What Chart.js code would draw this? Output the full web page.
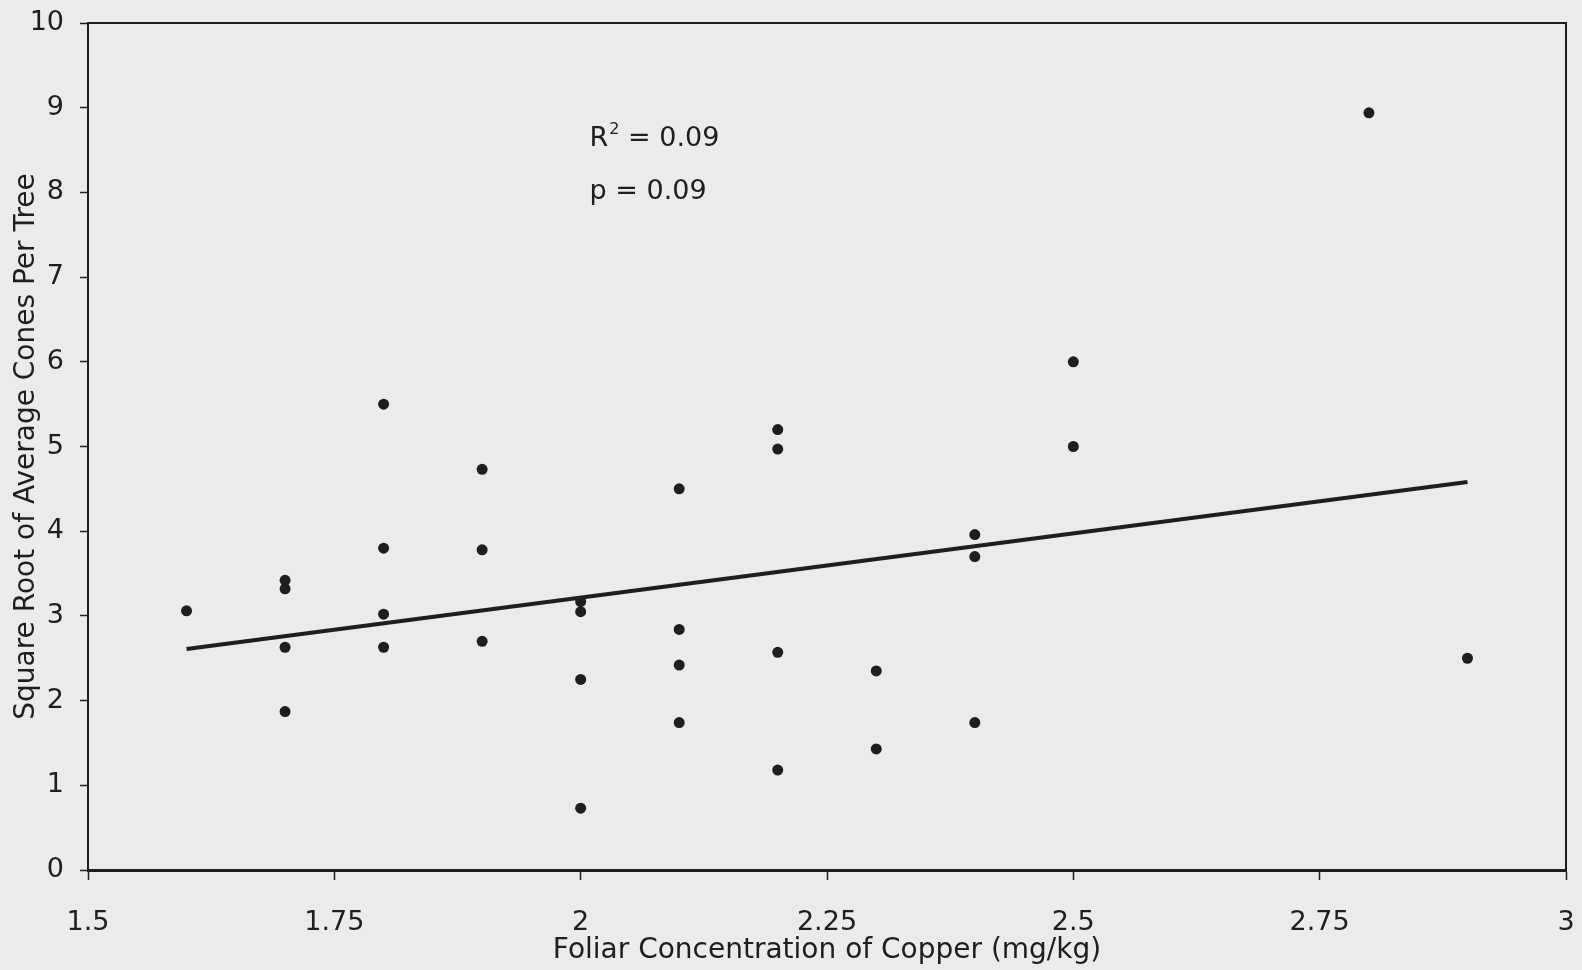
<!DOCTYPE html>
<html>
<head>
<meta charset="utf-8">
<script src="https://cdn.jsdelivr.net/npm/chart.js@4.4.1/dist/chart.umd.min.js"></script>
<style>
  html, body { margin: 0; padding: 0; background: #ebebeb; }
  #wrap { width: 1582px; height: 970px; }
</style>
</head>
<body>
<div id="wrap"><canvas id="chart"></canvas></div>
<script>
// Scatter data: copper concentration vs sqrt of average cones per tree
const copperX = [1.6, 1.7, 1.7, 1.7, 1.7, 1.8, 1.8, 1.8, 1.8, 1.9, 1.9, 1.9,
  2.0, 2.0, 2.0, 2.0, 2.1, 2.1, 2.1, 2.1, 2.2, 2.2, 2.2, 2.2, 2.3, 2.3,
  2.4, 2.4, 2.4, 2.5, 2.5, 2.8, 2.9];
const conesY = [3.06, 3.42, 3.32, 2.63, 1.87, 5.50, 3.80, 3.02, 2.63, 4.73, 3.78, 2.70,
  3.17, 3.05, 2.25, 0.73, 4.50, 2.84, 2.42, 1.74, 5.20, 4.97, 2.57, 1.18, 2.35, 1.43,
  3.96, 3.70, 1.74, 6.00, 5.00, 8.94, 2.50];

// Fitted regression line end points
const fitX = [1.6, 2.9];
const fitY = [2.61, 4.58];

// Tick labels and annotation text
const xTicks = [1.5, 1.75, 2, 2.25, 2.5, 2.75, 3];
const statsLines = ['R', ' = 0.09', 'p = 0.09'];
const statsAt = { x: 2.009, y1: 8.55, y2: 7.92 };

const ink = '#1e1e1e';
const font = '"DejaVu Sans", Arial, sans-serif';

// Fix an axis box size and drop the label overflow padding
function fixBox(w, h) {
  return s => {
    if (w !== null) s.width = w;
    if (h !== null) s.height = h;
    s.paddingTop = 0;
    s.paddingBottom = 0;
    s.paddingLeft = 0;
    s.paddingRight = 0;
  };
}

// Draws the R² / p text inside the plot
const statsPlugin = {
  id: 'stats',
  afterDatasetsDraw(chart) {
    const { ctx, scales } = chart;
    const x = scales.x.getPixelForValue(statsAt.x);
    const y1 = scales.y.getPixelForValue(statsAt.y1);
    const y2 = scales.y.getPixelForValue(statsAt.y2);
    ctx.save();
    ctx.fillStyle = ink;
    ctx.textBaseline = 'alphabetic';
    ctx.font = '27px ' + font;
    ctx.fillText(statsLines[0], x, y1);
    const rw = ctx.measureText(statsLines[0]).width;
    ctx.font = '16px ' + font;
    ctx.fillText('2', x + rw + 1, y1 - 12);
    const sw = ctx.measureText('2').width;
    ctx.font = '27px ' + font;
    ctx.fillText(statsLines[1], x + rw + sw + 1, y1);
    ctx.fillText(statsLines[2], x, y2);
    ctx.restore();
  }
};

const points = copperX.map((x, i) => ({ x, y: conesY[i] }));
const fitLine = fitX.map((x, i) => ({ x, y: fitY[i] }));

new Chart(document.getElementById('chart'), {
  type: 'scatter',
  data: {
    datasets: [
      {
        label: 'Trees',
        data: points,
        pointStyle: 'circle',
        pointRadius: 5.5,
        pointBackgroundColor: ink,
        pointBorderWidth: 0
      },
      {
        type: 'line',
        label: 'Fit',
        data: fitLine,
        borderColor: ink,
        borderWidth: 4,
        pointRadius: 0,
        fill: false
      }
    ]
  },
  options: {
    responsive: true,
    maintainAspectRatio: false,
    animation: false,
    layout: { padding: 0 },
    plugins: { legend: { display: false }, tooltip: { enabled: false } },
    scales: {
      x: {
        type: 'linear',
        min: 1.5,
        max: 3,
        afterFit: fixBox(null, 100),
        afterBuildTicks: s => { s.ticks = xTicks.map(v => ({ value: v })); },
        ticks: { color: ink, font: { size: 27, family: font }, padding: 27, maxRotation: 0, callback: v => String(v) },
        grid: { display: true, drawOnChartArea: false, tickLength: 10, tickColor: ink, tickWidth: 1.5 },
        border: { display: true, color: ink, width: 3 },
        title: {
          display: true,
          text: 'Foliar Concentration of Copper (mg/kg)',
          color: ink,
          font: { size: 28, family: font },
          padding: { top: 0, bottom: 2 }
        }
      },
      y: {
        min: 0,
        max: 10,
        afterFit: fixBox(88, null),
        ticks: { stepSize: 1, color: ink, font: { size: 27, family: font }, padding: 16 },
        grid: { display: true, drawOnChartArea: false, tickLength: 8, tickColor: ink, tickWidth: 1.5 },
        border: { display: true, color: ink, width: 2 },
        title: {
          display: true,
          text: 'Square Root of Average Cones Per Tree',
          color: ink,
          font: { size: 28, family: font },
          padding: { top: 10, bottom: 0 }
        }
      },
      x2: {
        type: 'linear',
        position: 'top',
        min: 1.5,
        max: 3,
        afterFit: fixBox(null, 23),
        ticks: { display: false },
        grid: { display: false },
        border: { display: true, color: ink, width: 2 }
      },
      y2: {
        type: 'linear',
        position: 'right',
        min: 0,
        max: 10,
        afterFit: fixBox(16, null),
        ticks: { display: false },
        grid: { display: false },
        border: { display: true, color: ink, width: 2 }
      }
    }
  },
  plugins: [statsPlugin]
});
</script>
</body>
</html>
